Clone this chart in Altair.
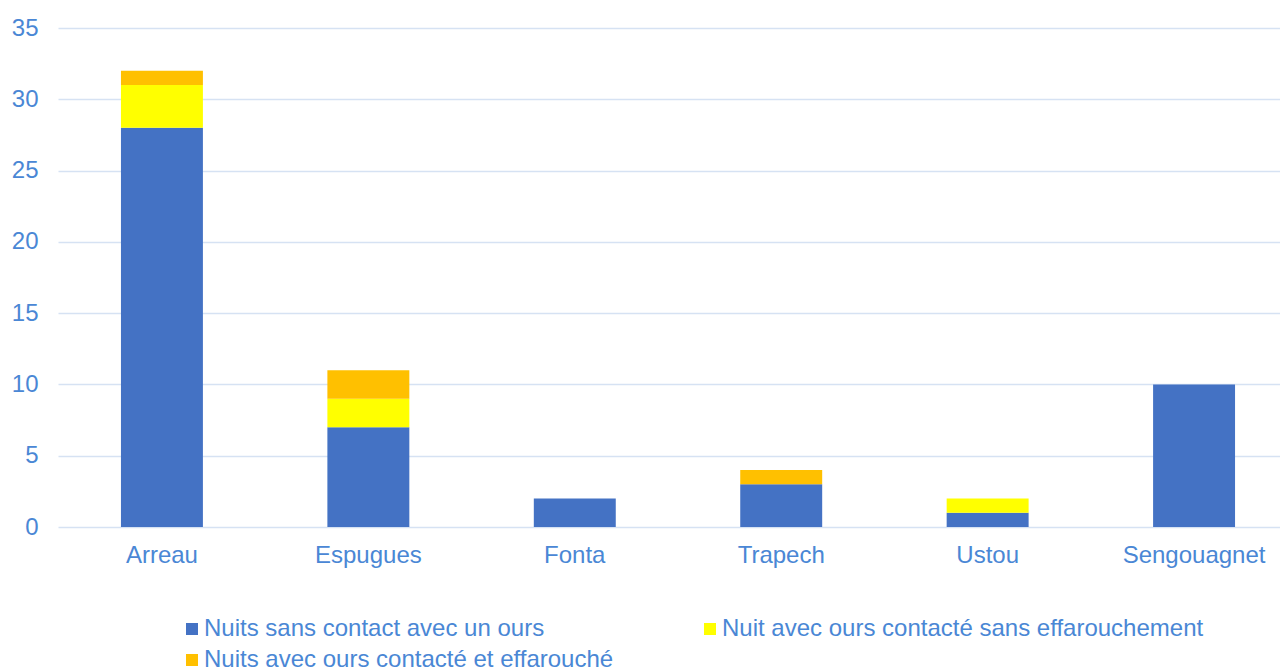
import altair as alt
import pandas as pd

categories = ["Arreau", "Espugues", "Fonta", "Trapech", "Ustou", "Sengouagnet"]
series = [
    "Nuits sans contact avec un ours",
    "Nuit avec ours contacté sans effarouchement",
    "Nuits avec ours contacté et effarouché",
]
colors = ["#4472C4", "#FFFF00", "#FFC000"]
sans_contact = [28, 7, 2, 3, 1, 10]
contact_sans_eff = [3, 2, 0, 0, 1, 0]
contact_eff = [1, 2, 0, 1, 0, 0]
y_ticks = [0, 5, 10, 15, 20, 25, 30, 35]

rows = []
for vals, s_idx in ((sans_contact, 0), (contact_sans_eff, 1), (contact_eff, 2)):
    for c, v in zip(categories, vals):
        rows.append({"site": c, "serie": series[s_idx], "ordre": s_idx, "valeur": v})
df = pd.DataFrame(rows)

TXT = "#4A87D5"
FONT = "Liberation Sans"

chart = alt.Chart(df).mark_bar().encode(
    x=alt.X("site:N", sort=categories,
            scale=alt.Scale(paddingInner=0.603, paddingOuter=0.305, range=[0, 1240]),
            axis=alt.Axis(title=None, labelAngle=0, ticks=False, domain=False,
                          labelPadding=16, labelFontSize=24, labelColor=TXT,
                          labelFont=FONT, grid=False)),
    y=alt.Y("valeur:Q", stack="zero",
            scale=alt.Scale(domain=[0, 35], nice=False),
            axis=alt.Axis(title=None, values=y_ticks, ticks=False, domain=False,
                          labelPadding=20, labelFontSize=24, labelColor=TXT,
                          labelFont=FONT, gridColor="#D6E2F3", gridWidth=1.5)),
    color=alt.Color("serie:N", scale=alt.Scale(domain=series, range=colors),
                    legend=alt.Legend(title=None, orient="none", legendX=122, legendY=589,
                                      columns=2, direction="horizontal",
                                      columnPadding=84, rowPadding=7,
                                      symbolType="square", symbolSize=144,
                                      symbolStrokeWidth=0, labelOffset=0,
                                      labelFontSize=24, labelColor=TXT, labelFont=FONT,
                                      labelLimit=600)),
    order=alt.Order("ordre:Q", sort="ascending"),
).properties(
    width=1222, height=499,
    autosize=alt.AutoSizeParams(type="none"),
    padding={"left": 50, "top": 20, "right": 0, "bottom": 141},
).configure_view(stroke=None)

chart.save("out.html", embed_options={"renderer": "svg", "actions": False})
